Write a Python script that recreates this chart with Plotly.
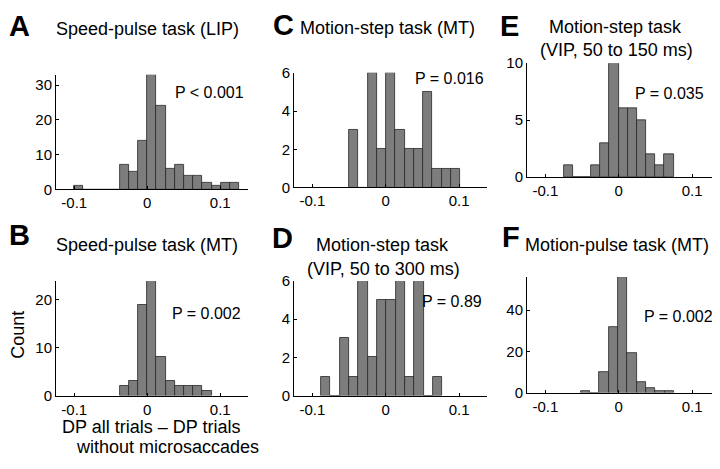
import plotly.graph_objects as go
from plotly.subplots import make_subplots

# bin centres (DP difference) and counts
a_bins = [-0.0947, -0.0821, -0.0695, -0.0569, -0.0443, -0.0317, -0.0191, -0.0065, 0.0061, 0.0187,
          0.0313, 0.0439, 0.0565, 0.0691, 0.0817, 0.0943, 0.1069, 0.1195]
a_counts = [1, 0, 0, 0, 0, 7, 5, 14, 33, 24, 6, 7, 4, 4, 2, 1, 2, 2]

b_bins = [-0.0317, -0.0191, -0.0065, 0.0061, 0.0187, 0.0313, 0.0439, 0.0565, 0.0691, 0.0817]
b_counts = [2, 3, 19, 24, 8, 3, 2, 2, 2, 1]

c_bins = [-0.0437, -0.0311, -0.0185, -0.0059, 0.0067, 0.0193, 0.0319, 0.0445, 0.0571, 0.0697,
          0.0823, 0.0949]
c_counts = [3, 0, 6, 2, 6, 3, 2, 2, 5, 1, 1, 1]

d_bins = [-0.0817, -0.0690, -0.0563, -0.0436, -0.0309, -0.0182, -0.0055, 0.0072, 0.0199, 0.0326,
          0.0453, 0.0580, 0.0707]
d_counts = [1, 0, 3, 1, 6, 2, 5, 5, 6, 1, 6, 0, 1]

e_bins = [-0.0689, -0.0564, -0.0439, -0.0314, -0.0189, -0.0064, 0.0061, 0.0186, 0.0311, 0.0436,
          0.0561, 0.0686]
e_counts = [1, 0, 0, 1, 3, 10, 6, 6, 5, 2, 1, 2]

f_bins = [-0.0454, -0.0327, -0.0200, -0.0073, 0.0054, 0.0181, 0.0308, 0.0435, 0.0562, 0.0689]
f_counts = [1, 0, 10, 32, 56, 19, 5, 2, 1, 1]

bin_width = 0.0126

x_tickvals = [-0.1, 0, 0.1]
x_ticktext = ['-0.1', '0', '0.1']

# painel -> (bins, contagens, y max, ticks y, texto P)
paineis = {
    'A': (a_bins, a_counts, 33, [0, 10, 20, 30], 'P < 0.001'),
    'B': (b_bins, b_counts, 24, [0, 10, 20], 'P = 0.002'),
    'C': (c_bins, c_counts, 6, [0, 2, 4, 6], 'P = 0.016'),
    'D': (d_bins, d_counts, 6, [0, 2, 4, 6], 'P = 0.89'),
    'E': (e_bins, e_counts, 10, [0, 5, 10], 'P = 0.035'),
    'F': (f_bins, f_counts, 56, [0, 20, 40], 'P = 0.002'),
}

# a pagina tem margem de 8px no body, entao a figura fica deslocada
PAGE_W, PAGE_H = 720, 469
OFF = 8
W, H = PAGE_W - OFF, PAGE_H - OFF
FONTE = 'Liberation Sans, Arial, Helvetica, sans-serif'

# caixas em pixels da pagina: (x0, x1, ytopo, ybase), linha, coluna, posicao do P
caixas = {
    'A': ((56, 248, 68, 187), 1, 1, (209, 86)),
    'B': ((56, 248, 282, 401), 2, 1, (206, 316)),
    'C': ((294, 487, 66, 185), 1, 2, (449, 72)),
    'D': ((294, 487, 282, 401), 2, 2, (452, 303)),
    'E': ((527, 720, 56, 174), 1, 3, (669, 87)),
    'F': ((527, 720, 278, 398), 2, 3, (678, 319)),
}


def px(x, y):
    return (x - OFF) / W, 1 - (y - OFF) / H


fig = make_subplots(rows=2, cols=3)
anotacoes = []

for letra, (bins, counts, ymax, yticks, ptxt) in paineis.items():
    (x0, x1, yt, yb), r, c, (tx, ty) = caixas[letra]
    fig.add_trace(go.Bar(
        x=bins, y=counts, width=bin_width,
        marker=dict(color='#7d7d7d', line=dict(color='#262626', width=0.8)),
        showlegend=False, hoverinfo='x+y'
    ), row=r, col=c)
    fig.update_xaxes(
        domain=[px(x0, 0)[0], min(px(x1, 0)[0], 1.0)], range=[-0.125, 0.138],
        tickvals=x_tickvals, ticktext=x_ticktext,
        showline=True, linecolor='black', linewidth=1, mirror=False,
        ticks='inside', ticklen=3, tickcolor='black',
        showgrid=False, zeroline=False,
        tickfont=dict(family=FONTE, size=15, color='black'),
        row=r, col=c
    )
    fig.update_yaxes(
        domain=[px(0, yb)[1], px(0, yt)[1]], range=[0, ymax],
        tickvals=yticks,
        showline=True, linecolor='black', linewidth=1, mirror=False,
        ticks='inside', ticklen=3, tickcolor='black',
        showgrid=False, zeroline=False,
        tickfont=dict(family=FONTE, size=15, color='black'),
        row=r, col=c
    )
    ax, ay = px(tx, ty)
    anotacoes.append(dict(x=ax, y=ay, text=ptxt, font=dict(size=16)))

# letras dos paineis
letras_pos = {'A': (19, 17), 'B': (19, 234), 'C': (283, 16), 'D': (282, 237), 'E': (509, 17), 'F': (511, 236)}
for letra, (lx, ly) in letras_pos.items():
    ax, ay = px(lx, ly)
    anotacoes.append(dict(x=ax, y=ay, text='<b>' + letra + '</b>', font=dict(size=29)))

# titulos
titulos = [
    ('Speed-pulse task (LIP)', 147, 20),
    ('Speed-pulse task (MT)', 147, 245),
    ('Motion-step task (MT)', 387, 19),
    ('Motion-step task', 382, 245),
    ('(VIP, 50 to 300 ms)', 384, 270),
    ('Motion-step task', 615, 18),
    ('(VIP, 50 to 150 ms)', 616, 42),
    ('Motion-pulse task (MT)', 617, 245),
]
for txt, tx, ty in titulos:
    ax, ay = px(tx, ty)
    anotacoes.append(dict(x=ax, y=ay, text=txt, font=dict(size=18)))

# rotulos dos eixos
ax, ay = px(18, 338)
anotacoes.append(dict(x=ax, y=ay, text='Count', textangle=-90, font=dict(size=18)))
ax, ay = px(151, 434)
anotacoes.append(dict(x=ax, y=ay, text='DP all trials \u2013 DP trials', font=dict(size=18)))
ax, ay = px(167, 454)
anotacoes.append(dict(x=ax, y=ay, text='without microsaccades', font=dict(size=18)))

for a in anotacoes:
    a.update(xref='paper', yref='paper', showarrow=False, xanchor='center', yanchor='middle')
    a['font'].update(family=FONTE, color='black')

fig.update_layout(
    width=W, height=H,
    margin=dict(l=0, r=0, t=0, b=0),
    paper_bgcolor='white', plot_bgcolor='white',
    bargap=0,
    annotations=anotacoes,
    font=dict(family=FONTE, color='black')
)

fig.write_html("out.html")
